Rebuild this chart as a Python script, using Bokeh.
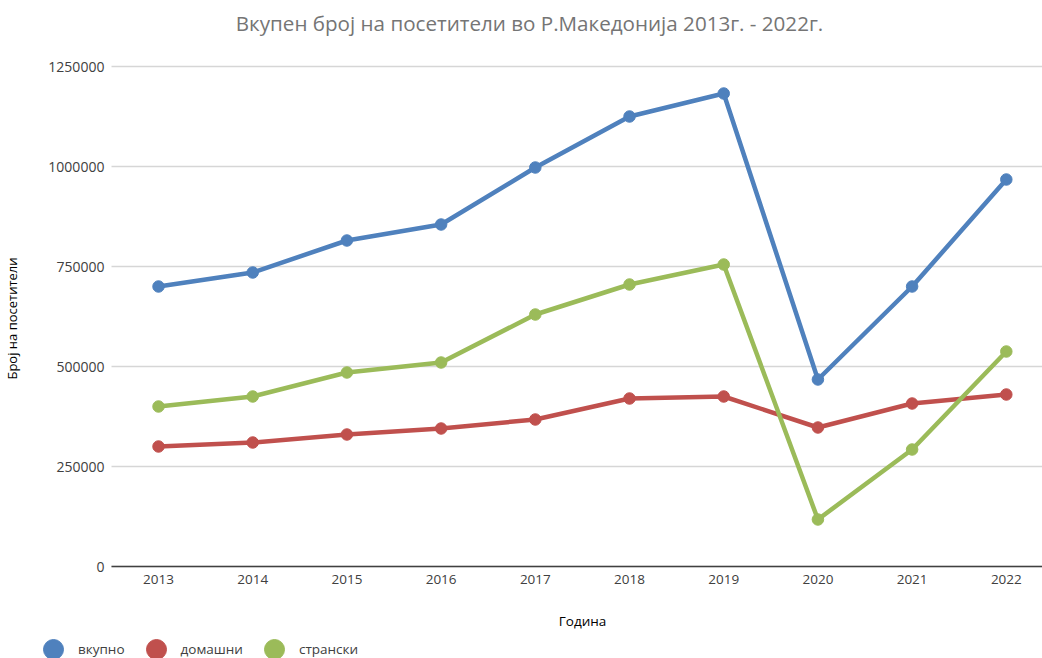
import math
from bokeh.plotting import figure
from bokeh.models import (Range1d, FixedTicker, BasicTickFormatter, Label, Legend,
                          LegendItem, LinearAxis, Grid)
from bokeh.embed import file_html
from bokeh.resources import INLINE

years = [2013, 2014, 2015, 2016, 2017, 2018, 2019, 2020, 2021, 2022]
vkupno = [700000, 735000, 815000, 855000, 997500, 1125000, 1182500, 467500, 700000, 967500]
domashni = [300000, 310000, 330000, 345000, 367500, 420000, 425000, 347500, 407500, 430000]
stranski = [400000, 425000, 485000, 510000, 630000, 705000, 755000, 117500, 292500, 537500]
series_names = ["вкупно", "домашни", "странски"]
y_ticks = [0, 250000, 500000, 750000, 1000000, 1250000]
title_text = "Вкупен број на посетители во Р.Македонија 2013г. - 2022г."
x_title = "Година"
y_title = "Број на посетители"

colors = ["#4f81bd", "#c0504d", "#9bbb59"]
FONT = "Open Sans"

W, H = 1042, 658
# whole canvas is the frame; plot area drawn inside it
X0, X1 = 2011.3227, 2022.384        # canvas left/right in data units
Y0, Y1 = -230000, 1415000           # canvas bottom/top in data units
PX0 = 2012.5                        # plot-area left edge
YMAX = 1250000

p = figure(width=W, height=H, output_backend="svg", toolbar_location=None,
           x_range=Range1d(X0, X1), y_range=Range1d(Y0, Y1),
           x_axis_location=None, y_axis_location=None,
           min_border=0, min_border_left=0, min_border_right=0,
           min_border_top=0, min_border_bottom=0)
p.outline_line_color = None
p.background_fill_color = "white"
p.border_fill_color = "white"
for g in p.grid:
    g.visible = False

grid = Grid(dimension=1, ticker=FixedTicker(ticks=y_ticks), cross_bounds=(PX0, X1),
            grid_line_color="#d6d6d6", grid_line_width=1.5)
p.add_layout(grid, "center")

xa = LinearAxis(fixed_location=0, bounds=(PX0, X1), ticker=FixedTicker(ticks=years),
                formatter=BasicTickFormatter(use_scientific=False))
xa.major_tick_out = 0
xa.major_tick_in = 0
xa.minor_tick_out = 0
xa.minor_tick_in = 0
xa.major_tick_line_color = None
xa.minor_tick_line_color = None
xa.axis_line_color = "#404040"
xa.axis_line_width = 1.6
xa.major_label_text_font = FONT
xa.major_label_text_font_size = "13.5px"
xa.major_label_text_color = "#404040"
xa.major_label_standoff = 8
p.add_layout(xa, "below")

ya = LinearAxis(fixed_location=PX0, bounds=(0, YMAX), ticker=FixedTicker(ticks=y_ticks),
                formatter=BasicTickFormatter(use_scientific=False))
ya.major_tick_out = 0
ya.major_tick_in = 0
ya.minor_tick_out = 0
ya.minor_tick_in = 0
ya.major_tick_line_color = None
ya.minor_tick_line_color = None
ya.axis_line_color = None
ya.major_label_text_font = FONT
ya.major_label_text_font_size = "14px"
ya.major_label_text_color = "#404040"
ya.major_label_standoff = 7
p.add_layout(ya, "left")

items = []
for name, vals, c in zip(series_names, [vkupno, domashni, stranski], colors):
    p.line(years, vals, line_color=c, line_width=4.5)
    r = p.scatter(years, vals, size=11.5, fill_color=c, line_color=c)
    items.append(LegendItem(label=name, renderers=[r]))

legend = Legend(items=items, orientation="horizontal", location=(28, -16),
                glyph_width=50, glyph_height=50, label_standoff=0, spacing=6,
                padding=0, margin=0, border_line_color=None, background_fill_alpha=0,
                label_text_font=FONT, label_text_font_size="13.5px", label_text_color="#404040")
p.add_layout(legend, "center")

p.add_layout(Label(x=529, y=H - 22, x_units="screen", y_units="screen", text=title_text,
                   text_font=FONT, text_font_size="20.6px", text_color="#757575",
                   text_align="center", text_baseline="middle"))
p.add_layout(Label(x=582, y=H - 620, x_units="screen", y_units="screen", text=x_title,
                   text_font=FONT, text_font_size="13.5px", text_color="#000000",
                   text_align="center", text_baseline="middle"))
p.add_layout(Label(x=11, y=H - 318, x_units="screen", y_units="screen", text=y_title,
                   angle=math.pi / 2, text_font=FONT, text_font_size="13px",
                   text_color="#000000", text_align="center", text_baseline="middle"))

open("out.html", "w").write(file_html(p, INLINE))
